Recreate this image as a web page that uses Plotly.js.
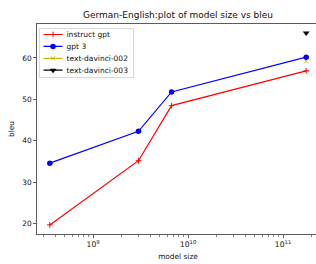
<!DOCTYPE html>
<html>
<head>
<meta charset="utf-8">
<script src="https://cdn.plot.ly/plotly-3.0.1.min.js"></script>
<style>
html,body{margin:0;padding:0;overflow:hidden;background:#fff;width:316px;height:264px;}
#chart{width:320px;height:264px;}
</style>
</head>
<body>
<div id="chart"></div>
<script>
// Data
var modelSizes = [3.5e8, 3e9, 6.7e9, 1.75e11];
var instructGpt = [19.7, 35.2, 48.5, 56.9];
var gpt3 = [34.6, 42.3, 51.8, 60.2];
var davinci002Size = [1.75e11];
var davinci002 = [59.2];
var davinci003Size = [1.75e11];
var davinci003 = [66.0];
var yTicks = [20, 30, 40, 50, 60];
var xTicks = [1e9, 1e10, 1e11];
var xTickText = ['10<sup>9</sup>', '10<sup>10</sup>', '10<sup>11</sup>'];

// minor log ticks (2..9 of each decade)
var minorTicks = [];
for (var d = 8; d <= 11; d++) {
  for (var k = 2; k <= 9; k++) minorTicks.push(k * Math.pow(10, d));
}

var font = 'DejaVu Sans, sans-serif';

var traces = [
  {x: modelSizes, y: instructGpt, name: 'instruct gpt', mode: 'lines+markers',
   line: {color: '#ff0000', width: 1.2},
   marker: {symbol: 'cross-thin-open', size: 4, color: '#ff0000', line: {width: 1, color: '#ff0000'}}},
  {x: modelSizes, y: gpt3, name: 'gpt 3', mode: 'lines+markers',
   line: {color: '#0000ff', width: 1.2},
   marker: {symbol: 'circle', size: 5.5, color: '#0000ff'}},
  {x: davinci002Size, y: davinci002, name: 'text-davinci-002', mode: 'lines+markers',
   line: {color: '#bfbf00', width: 1.2},
   marker: {symbol: 'x-thin-open', size: 4, color: '#bfbf00', line: {width: 1, color: '#bfbf00'}}},
  {x: davinci003Size, y: davinci003, name: 'text-davinci-003', mode: 'lines+markers',
   line: {color: '#000000', width: 1.2},
   marker: {symbol: 'triangle-down', size: 6, color: '#000000'}}
];

var layout = {
  width: 320, height: 264,
  margin: {l: 37, r: 1, t: 24, b: 30, pad: 0},
  paper_bgcolor: '#fff', plot_bgcolor: '#fff',
  font: {family: font, size: 7.4, color: '#111'},
  showlegend: true,
  title: {text: 'German-English:plot of model size vs bleu', font: {family: font, size: 9, color: '#111'},
          x: 0.5, xref: 'paper', y: 1 - 15/264, yref: 'container', yanchor: 'middle'},
  xaxis: {
    type: 'log', range: [Math.log10(modelSizes[0]) - 0.135, Math.log10(modelSizes[3]) + 0.135],
    tickmode: 'array', tickvals: xTicks, ticktext: xTickText,
    ticks: 'outside', ticklen: 3, tickwidth: 0.8, tickcolor: '#333',
    minor: {tickmode: 'array', tickvals: minorTicks, ticks: 'outside', ticklen: 1.8, tickwidth: 0.6, tickcolor: '#333', showgrid: false},
    showline: true, linecolor: '#333', linewidth: 0.8, mirror: true,
    showgrid: false, zeroline: false,
    tickfont: {family: font, size: 7.6, color: '#111'},
    title: {text: 'model size', font: {family: font, size: 7.4, color: '#111'}, standoff: 5}
  },
  yaxis: {
    range: [17.5, 68.2],
    tickmode: 'array', tickvals: yTicks,
    ticks: 'outside', ticklen: 3, tickwidth: 0.8, tickcolor: '#333',
    showline: true, linecolor: '#333', linewidth: 0.8, mirror: true,
    showgrid: false, zeroline: false,
    tickfont: {family: font, size: 7.4, color: '#111'},
    title: {text: 'bleu', font: {family: font, size: 7.4, color: '#111'}, standoff: 6}
  },
  legend: {
    x: 0.009, y: 0.981, xanchor: 'left', yanchor: 'top',
    bgcolor: 'rgba(255,255,255,0.8)', bordercolor: '#d0d0d0', borderwidth: 0.8,
    font: {family: font, size: 7.5, color: '#111'},
    tracegroupgap: 0, itemwidth: 30
  }
};

// Compact the legend (matplotlib-style spacing)
function compactLegend(gd) {
  var leg = gd.querySelector('.legend');
  if (!leg) return;
  var items = leg.querySelectorAll('g.traces');
  var rowH = 11.9, top = 6.5;
  items.forEach(function (it, i) {
    it.setAttribute('transform', 'translate(0,' + (top + rowH * i) + ')');
    it.querySelectorAll('.legendlines path').forEach(function (p) { p.setAttribute('d', 'M4,0h19'); });
    it.querySelectorAll('.legendpoints path').forEach(function (p) { p.setAttribute('transform', 'translate(13.5,0)'); });
    var t = it.querySelector('text.legendtext');
    if (t) t.setAttribute('x', 27);
    var r = it.querySelector('rect.legendtoggle');
    if (r) r.setAttribute('width', 90);
  });
  var bg = leg.querySelector('rect.bg');
  if (bg) { bg.setAttribute('width', 94); bg.setAttribute('height', 49); }
}

Plotly.newPlot('chart', traces, layout, {staticPlot: true, displayModeBar: false}).then(function (gd) {
  compactLegend(gd);
});
</script>
</body>
</html>
